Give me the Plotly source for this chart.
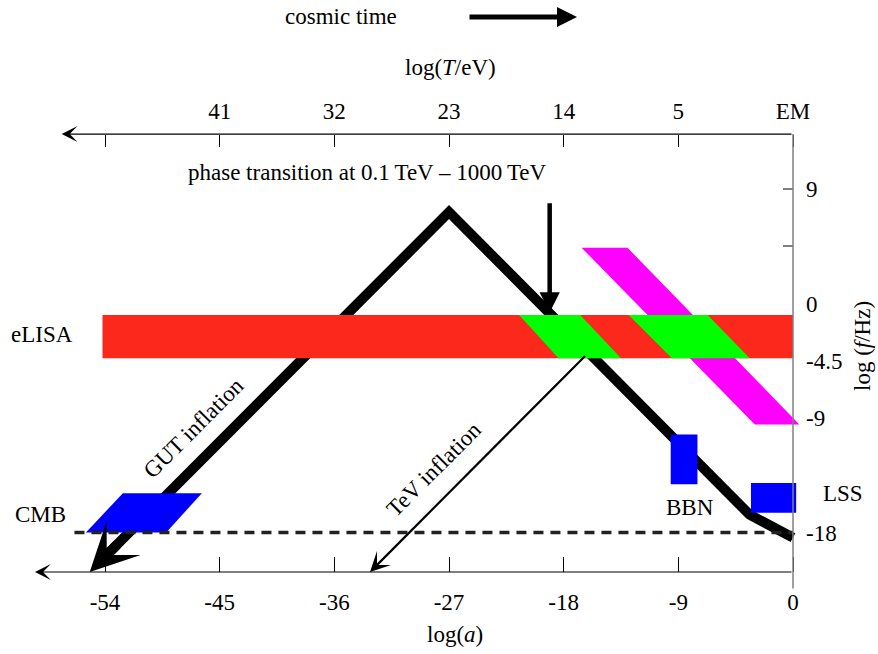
import plotly.graph_objects as go

# ---------------- data (in chart units: x = log(a), y = log(f/Hz)) ----------------
loga_ticks = [-54, -45, -36, -27, -18, -9, 0]
loga_labels = ["-54", "-45", "-36", "-27", "-18", "-9", "0"]
logT_labels = ["", "41", "32", "23", "14", "5", "EM"]
logf_ticks = [9, 0, -4.5, -9, -18]
logf_labels = ["9", "0", "-4.5", "-9", "-18"]
logf_marks = [9, 4.5]

axis_bottom_y = -21.1
axis_top_y = 13.33
axis_bottom_left = -59.5
axis_top_left = -57.4
axis_right_low = -22.4

# GUT inflation track (arrow tip, peak, kink, end)
gut_x = [-55.2, -27.0, -3.4, 0.0]
gut_y = [-21.1, 7.2, -16.6, -18.4]
# TeV inflation track (start, arrow tip)
tev_x = [-16.2, -33.2]
tev_y = [-4.0, -21.1]
# phase transition arrow
pt_x = -19.1
pt_y = [8.0, -0.7]

# eLISA band
elisa_x = [-54.2, 0.0]
elisa_y = [-4.3, -0.9]
# green parallelograms on eLISA band (top-left, top-right, bottom-right, bottom-left x)
green1_x = [-21.5, -16.7, -13.5, -18.4]
green2_x = [-12.9, -6.7, -3.4, -9.5]
# magenta parallelogram
mag_x = [-16.6, -13.0, 0.5, -3.0]
mag_y = [4.4, 4.4, -9.5, -9.5]
# BBN and LSS boxes
bbn_x = [-9.6, -7.5]
bbn_y = [-14.2, -10.3]
lss_x = [-3.3, 0.25]
lss_y = [-16.45, -14.1]
# CMB parallelogram and line
cmb_x = [-52.6, -46.4, -49.2, -55.5]
cmb_y = [-14.9, -14.9, -18.0, -18.0]
cmb_line_x = [-56.4, 0.0]
cmb_line_y = [-18.0, -18.0]

# ---------------- layout calibration ----------------
W, H = 878, 654
X0_PX, X_SCALE = 793.0, 12.74
Y0_PX, Y_SCALE = 303.6, 12.72
x_range = [(0 - X0_PX) / X_SCALE, (W - X0_PX) / X_SCALE]
y_range = [(Y0_PX - H) / Y_SCALE, (Y0_PX - 0) / Y_SCALE]


def paper(px, py):
    return px / W, 1 - py / H


FONT = "Liberation Serif"
FS = 23
RED = "#fc281b"
GREEN = "#00ff00"
BLUE = "#0000ff"
MAGENTA = "#ff00ff"

fig = go.Figure()


def poly(xs, ys, color):
    fig.add_trace(go.Scatter(x=xs + [xs[0]], y=ys + [ys[0]], mode="lines", fill="toself",
                             fillcolor=color, line=dict(width=0, color=color),
                             hoverinfo="skip", showlegend=False))


def along(frac):
    return (gut_x[0] + frac * (gut_x[1] - gut_x[0]),
            gut_y[0] + frac * (gut_y[1] - gut_y[0]))


# GUT track line (runs under the arrow head, head added by annotation)
lx, ly = along(0.04)
fig.add_trace(go.Scatter(x=[lx] + gut_x[1:], y=[ly] + gut_y[1:], mode="lines",
                         line=dict(color="black", width=10), hoverinfo="skip",
                         showlegend=False))

poly(mag_x, mag_y, MAGENTA)
poly([elisa_x[0], elisa_x[1], elisa_x[1], elisa_x[0]],
     [elisa_y[1], elisa_y[1], elisa_y[0], elisa_y[0]], RED)
poly(green1_x, [elisa_y[1], elisa_y[1], elisa_y[0], elisa_y[0]], GREEN)
poly(green2_x, [elisa_y[1], elisa_y[1], elisa_y[0], elisa_y[0]], GREEN)
poly([bbn_x[0], bbn_x[1], bbn_x[1], bbn_x[0]], [bbn_y[1], bbn_y[1], bbn_y[0], bbn_y[0]], BLUE)
poly([lss_x[0], lss_x[1], lss_x[1], lss_x[0]], [lss_y[1], lss_y[1], lss_y[0], lss_y[0]], BLUE)
poly(cmb_x, cmb_y, BLUE)
fig.add_trace(go.Scatter(x=cmb_line_x, y=cmb_line_y, mode="lines",
                         line=dict(color="#222222", width=3.5, dash="10px,7px"),
                         hoverinfo="skip", showlegend=False))
# dummy trace for overlay axes
fig.add_trace(go.Scatter(x=[None], y=[None], xaxis="x2", yaxis="y2", showlegend=False))

annotations = []
# bottom axis with arrow
annotations.append(dict(x=axis_bottom_left, y=axis_bottom_y, ax=0, ay=axis_bottom_y,
                        xref="x", yref="y", axref="x", ayref="y", text="", showarrow=True,
                        arrowhead=3, arrowwidth=1.2, arrowsize=2.2, arrowcolor="black"))
# top axis with arrow
annotations.append(dict(x=axis_top_left, y=axis_top_y, ax=0, ay=axis_top_y,
                        xref="x", yref="y", axref="x", ayref="y", text="", showarrow=True,
                        arrowhead=3, arrowwidth=1.2, arrowsize=2.2, arrowcolor="black"))
# GUT arrow head
tx, ty = along(0.08)
annotations.append(dict(x=gut_x[0], y=gut_y[0], ax=tx, ay=ty,
                        xref="x", yref="y", axref="x", ayref="y", text="", showarrow=True,
                        arrowhead=3, arrowwidth=10, arrowsize=0.8, arrowcolor="black"))
# TeV inflation arrow
annotations.append(dict(x=tev_x[1], y=tev_y[1], ax=tev_x[0], ay=tev_y[0],
                        xref="x", yref="y", axref="x", ayref="y", text="", showarrow=True,
                        arrowhead=3, arrowwidth=2.2, arrowsize=1.5, arrowcolor="black"))
# phase transition arrow
annotations.append(dict(x=pt_x, y=pt_y[1], ax=pt_x, ay=pt_y[0],
                        xref="x", yref="y", axref="x", ayref="y", text="", showarrow=True,
                        arrowhead=2, arrowwidth=4.5, arrowsize=0.9, arrowcolor="black"))
# cosmic time arrow
cx, cy = paper(577, 17)
annotations.append(dict(x=cx, y=cy, ax=-109, ay=0, xref="paper", yref="paper",
                        text="", showarrow=True, arrowhead=2, arrowwidth=5, arrowsize=0.8,
                        arrowcolor="black"))

texts = [
    ("cosmic time", 341, 17, 0),
    ("log(<i>T</i>/eV)", 450, 68, 0),
    ("phase transition at 0.1\u2009TeV \u2013 1000\u2009TeV", 367, 172, 0),
    ("eLISA", 42, 334, 0),
    ("CMB", 40, 514, 0),
    ("BBN", 690, 507, 0),
    ("LSS", 843, 493, 0),
    ("GUT inflation", 193, 428, -45),
    ("TeV inflation", 434, 470, -45),
    ("log(<i>a</i>)", 455, 634, 0),
    ("log (<i>f</i>/Hz)", 862, 346, -90),
]
for t, px, py, ang in texts:
    x, y = paper(px, py)
    annotations.append(dict(x=x, y=y, xref="paper", yref="paper", text=t, showarrow=False,
                            textangle=ang, xanchor="center", yanchor="middle",
                            font=dict(family=FONT, size=FS, color="black")))

shapes = [dict(type="line", xref="x", yref="y", x0=0, x1=0, y0=axis_top_y, y1=axis_right_low,
               line=dict(color="#808080", width=1.5))]

tickfont = dict(family=FONT, size=FS, color="black")
fig.update_layout(
    width=W, height=H, margin=dict(l=0, r=0, t=0, b=0),
    paper_bgcolor="white", plot_bgcolor="white", showlegend=False,
    xaxis=dict(range=x_range, domain=[0, 1], anchor="free", position=1 - 572 / H,
               tickvals=loga_ticks, ticktext=loga_labels, ticks="inside", ticklen=15,
               tickwidth=1, tickcolor="black", showline=False, showgrid=False,
               zeroline=False, tickfont=tickfont, ticklabelstandoff=14, fixedrange=True),
    xaxis2=dict(range=x_range, overlaying="x", side="top", anchor="free",
                position=1 - 134 / H, tickvals=loga_ticks, ticktext=logT_labels,
                ticks="inside", ticklen=12, tickwidth=1, tickcolor="black",
                showline=False, showgrid=False, zeroline=False, tickfont=tickfont,
                ticklabelstandoff=10, fixedrange=True),
    yaxis=dict(range=y_range, domain=[0, 1], side="right", anchor="free",
               position=X0_PX / W, tickvals=logf_ticks, ticktext=logf_labels, ticks="",
               showline=False, showgrid=False, zeroline=False, tickfont=tickfont,
               ticklabelstandoff=12, fixedrange=True),
    yaxis2=dict(range=y_range, overlaying="y", side="right", anchor="free",
                position=X0_PX / W, tickvals=logf_marks, ticks="inside", ticklen=10,
                tickwidth=1.5, tickcolor="#808080", showticklabels=False, showline=False,
                showgrid=False, zeroline=False, fixedrange=True),
    annotations=annotations,
    shapes=shapes,
)

fig.write_html("out.html", config={"displayModeBar": False},
               post_script="document.body.style.margin='0';document.body.style.overflow='hidden';")
